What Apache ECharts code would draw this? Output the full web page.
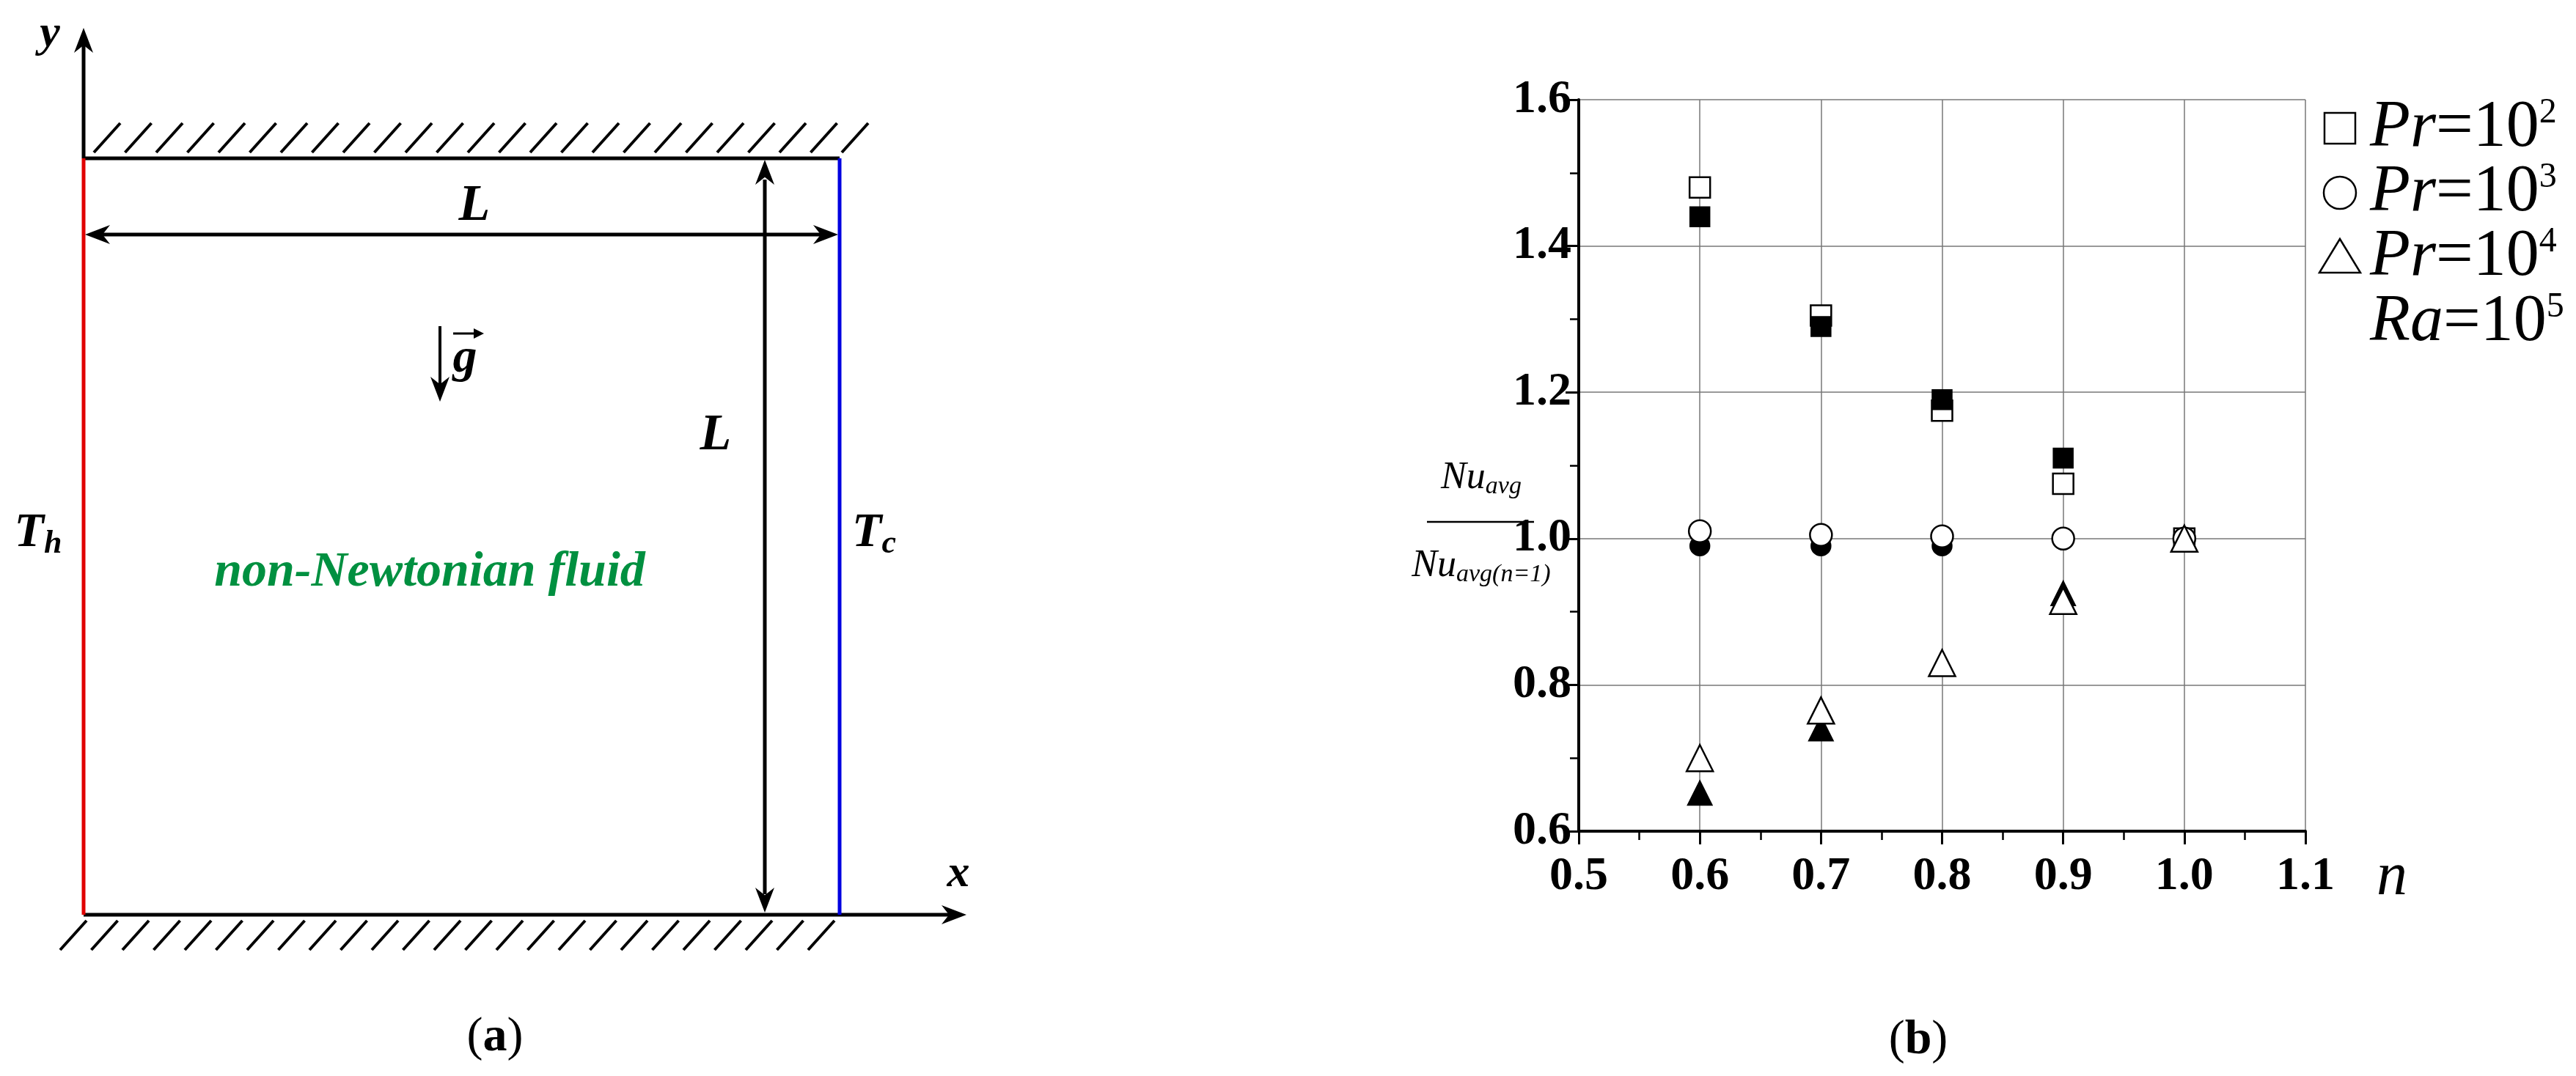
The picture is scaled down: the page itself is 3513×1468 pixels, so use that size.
<!DOCTYPE html>
<html><head><meta charset="utf-8">
<script src="https://cdn.jsdelivr.net/npm/echarts@6/dist/echarts.min.js"></script>
<style>html,body{margin:0;background:#fff}#c{width:3513px;height:1468px}</style>
</head><body><div id="c"></div>
<script>
// n values
const nValues = [0.6, 0.7, 0.8, 0.9, 1.0];
// Pr=10^2 (open / filled)
const pr2Open = [1.48, 1.305, 1.175, 1.075, 1.0];
const pr2Fill = [1.44, 1.29, 1.19, 1.11];
// Pr=10^3
const pr3Open = [1.01, 1.005, 1.003, 1.0, 1.0];
const pr3Fill = [0.99, 0.99, 0.99, 0.998];
// Pr=10^4
const pr4Open = [0.70, 0.765, 0.83, 0.915, 1.0];
const pr4Fill = [0.652, 0.74, null, 0.925];

const serif = 'Liberation Serif';
const serifItalic = 'Liberation Serif, DejaVu Serif, serif';
let pairs = (ys) => ys.map((v, i) => [nValues[i], v]).filter(p => p[1] != null);
let fs = (size, style, weight, extra) => Object.assign({fontFamily: style === 'italic' ? serifItalic : serif, fontSize: size, fontStyle: style || 'normal', fontWeight: weight || 'normal', fill: '#000'}, extra || {});

// panel (a) : schematic drawn with graphic
let g = [];
let line = (x1, y1, x2, y2, color, w) => g.push({type: 'line', shape: {x1, y1, x2, y2}, style: {stroke: color || '#000', lineWidth: w || 4}});
let arrowHead = (x, y, dx, dy) => {
  let L = 34, W = 13;
  let px = -dy, py = dx;
  g.push({type: 'polygon', shape: {points: [[x, y], [x - dx * L + px * W, y - dy * L + py * W], [x - dx * L * 0.7, y - dy * L * 0.7], [x - dx * L - px * W, y - dy * L - py * W]]}, style: {fill: '#000'}});
};
const bx0 = 114, bx1 = 1145, by0 = 216, by1 = 1248;
for (let x = 128; x <= 1180; x += 42.5) line(x, by0 - 8, x + 36, by0 - 48, '#000', 4);
for (let x = 82; x <= 1140; x += 42.5) line(x, by1 + 48, x + 36, by1 + 8, '#000', 4);
line(bx0, by0, bx1, by0, '#000', 5);
line(bx0, by1, 1300, by1, '#000', 5);
arrowHead(1318, by1, 1, 0);
line(bx0, by0, bx0, 60, '#000', 5);
arrowHead(bx0, 38, 0, -1);
line(bx0, by0, bx0, by1, '#e00000', 5);
line(bx1, by0, bx1, by1, '#0000e0', 5);
line(140, 320, 1120, 320, '#000', 5);
arrowHead(116, 320, -1, 0);
arrowHead(1143, 320, 1, 0);
line(1043, 245, 1043, 1220, '#000', 5);
arrowHead(1043, 218, 0, -1);
arrowHead(1043, 1245, 0, 1);
line(600, 445, 600, 530, '#000', 4);
arrowHead(600, 548, 0, 1);
let txt = (x, y, text, size, extra) => g.push({type: 'text', x, y, style: fs(size, 'italic', 'bold', Object.assign({text, textAlign: 'center', textVerticalAlign: 'middle'}, extra || {}))});
txt(68, 47, 'y', 62);
txt(1307, 1193, 'x', 62);
txt(647, 282, 'L', 70);
txt(976, 595, 'L', 70);
txt(634, 490, 'g', 66);
line(618, 455, 652, 455, '#000', 3);
g.push({type: 'polygon', shape: {points: [[660, 455], [646, 448], [646, 462]]}, style: {fill: '#000'}});
let sub = {a: fs(66, 'italic', 'bold'), b: fs(44, 'italic', 'bold', {padding: [30, 0, 0, 0]})};
g.push({type: 'text', x: 52, y: 728, style: {text: '{a|T}{b|h}', textAlign: 'center', textVerticalAlign: 'middle', rich: sub}});
g.push({type: 'text', x: 1192, y: 728, style: {text: '{a|T}{b|c}', textAlign: 'center', textVerticalAlign: 'middle', rich: sub}});
txt(586, 781, 'non-Newtonian fluid', 68, {fill: '#009040'});
let cap = {p: fs(66), b: fs(66, 'normal', 'bold')};
g.push({type: 'text', x: 675, y: 1416, style: {text: '{p|(}{b|a}{p|)}', textAlign: 'center', textVerticalAlign: 'middle', rich: cap}});

// panel (b) : legend, y-label, axis name, caption
g.push({type: 'text', x: 2616, y: 1420, style: {text: '{p|(}{b|b}{p|)}', textAlign: 'center', textVerticalAlign: 'middle', rich: cap}});
g.push({type: 'text', x: 3262, y: 1198, style: fs(84, 'italic', 'normal', {text: 'n', textAlign: 'center', textVerticalAlign: 'middle'})});
g.push({type: 'text', x: 2020, y: 712, style: {text: '{n|Nu}{s|avg}\n{n|Nu}{s|avg(n=1)}', textAlign: 'center', textVerticalAlign: 'middle', lineHeight: 120,
  rich: {n: fs(52, 'italic', 'normal', {lineHeight: 120}), s: fs(34, 'italic', 'normal', {padding: [24, 0, 0, 0], lineHeight: 120})}}});
line(1946, 712, 2092, 712, '#000', 2.5);
const legendSup = ['2', '3', '4'];
let legRich = {i: fs(90, 'italic'), r: fs(90), s: fs(48, 'normal', 'normal', {padding: [0, 0, 42, 0]})};
legendSup.forEach((s, k) => {
  g.push({type: 'text', x: 3232, y: 175 + k * 88, style: {text: '{i|Pr}{r|=10}{s|' + s + '}', textVerticalAlign: 'middle', rich: legRich}});
});
g.push({type: 'rect', shape: {x: 3170, y: 154, width: 42, height: 42}, style: {fill: '#fff', stroke: '#000', lineWidth: 2.5}});
g.push({type: 'circle', shape: {cx: 3191, cy: 263, r: 22}, style: {fill: '#fff', stroke: '#000', lineWidth: 2.5}});
g.push({type: 'polygon', shape: {points: [[3191, 326], [3163, 372], [3219, 372]]}, style: {fill: '#fff', stroke: '#000', lineWidth: 2.5}});
g.push({type: 'text', x: 3232, y: 440, style: {text: '{i|Ra}{r|=10}{s|5}', textVerticalAlign: 'middle', rich: legRich}});

let sc = (name, data, symbol, filled, size, z) => ({
  name, type: 'scatter', data: pairs(data), symbol, symbolSize: size, z,
  itemStyle: {color: filled ? '#000' : '#fff', borderColor: '#000', borderWidth: 2.5, opacity: 1}
});

let chart = echarts.init(document.getElementById('c'));
chart.setOption({
  backgroundColor: '#fff',
  animation: false,
  grid: {left: 2153, right: 369, top: 136, bottom: 334},
  xAxis: {
    type: 'value', min: 0.5, max: 1.1, interval: 0.1,
    axisLine: {lineStyle: {color: '#000', width: 4}},
    axisTick: {length: 18, lineStyle: {color: '#000', width: 3}},
    minorTick: {show: true, splitNumber: 2, length: 12, lineStyle: {color: '#000', width: 2.5}},
    axisLabel: {fontFamily: serif, fontWeight: 'bold', fontSize: 64, color: '#000', margin: 30, formatter: v => v.toFixed(1)},
    splitLine: {show: true, lineStyle: {color: '#777', width: 1.5}}
  },
  yAxis: {
    type: 'value', min: 0.6, max: 1.6, interval: 0.2,
    axisLine: {show: true, lineStyle: {color: '#000', width: 4}},
    axisTick: {length: 18, lineStyle: {color: '#000', width: 3}},
    minorTick: {show: true, splitNumber: 2, length: 12, lineStyle: {color: '#000', width: 2.5}},
    axisLabel: {fontFamily: serif, fontWeight: 'bold', fontSize: 64, color: '#000', margin: 10, formatter: v => v.toFixed(1)},
    splitLine: {show: true, lineStyle: {color: '#777', width: 1.5}}
  },
  series: [
    sc('Pr=10^2 open', pr2Open, 'rect', false, 28, 3),
    sc('Pr=10^3 open', pr3Open, 'circle', false, 30, 3),
    sc('Pr=10^4 open', pr4Open, 'triangle', false, 36, 3),
    sc('Pr=10^2 fill', pr2Fill, 'rect', true, 26, 4),
    sc('Pr=10^3 fill', pr3Fill, 'circle', true, 26, 2),
    sc('Pr=10^4 fill', pr4Fill, 'triangle', true, 32, 2)
  ],
  graphic: g
});
</script></body></html>
